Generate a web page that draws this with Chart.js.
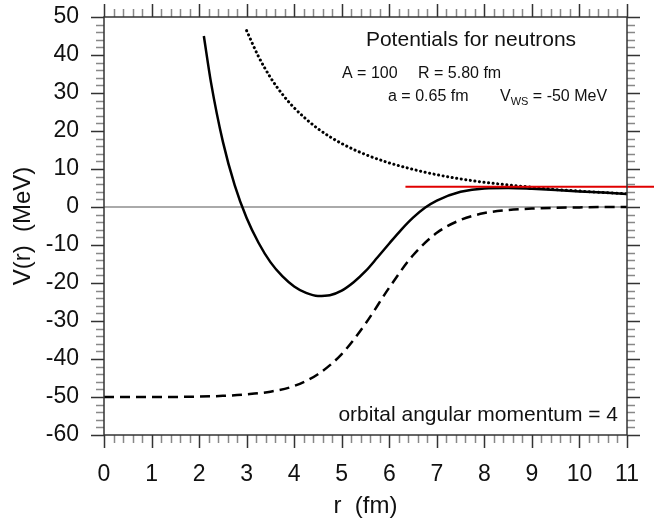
<!DOCTYPE html>
<html>
<head>
<meta charset="utf-8">
<script src="https://cdn.jsdelivr.net/npm/chart.js@4.4.0/dist/chart.umd.min.js"></script>
<style>
  html, body { margin: 0; padding: 0; background: #fff; }
  #wrap { width: 654px; height: 523px; }
</style>
</head>
<body>
<div id="wrap"><canvas id="chartPot"></canvas></div>
<script>
// Woods-Saxon potential (dashed)
const rWS = [0, 1, 2, 2.5, 3, 3.5, 4, 4.5, 5, 5.5, 6, 6.5, 7, 7.5, 8, 8.5, 9, 9.5, 10, 10.5, 11];
const vWS = [-50.0, -50.0, -49.9, -49.7, -49.3, -48.6, -47.1, -44.0, -38.7, -30.7, -21.2, -12.7, -6.8, -3.4, -1.6, -0.8, -0.4, -0.2, -0.1, 0.0, 0.0];

// centrifugal term (dotted)
const rCent = [3, 3.25, 3.5, 3.75, 4, 4.5, 5, 5.5, 6, 6.5, 7, 7.5, 8, 8.5, 9, 9.5, 10, 10.5, 11];
const vCent = [46.4, 39.6, 34.1, 29.7, 26.1, 20.6, 16.7, 13.8, 11.6, 9.9, 8.5, 7.4, 6.5, 5.8, 5.2, 4.6, 4.2, 3.8, 3.5];

// total potential (solid)
const rTot = [2.1, 2.25, 2.5, 2.75, 3, 3.25, 3.5, 3.75, 4, 4.25, 4.5, 4.75, 5, 5.25, 5.5, 5.75, 6, 6.25, 6.5, 6.75, 7, 7.5, 8, 8.5, 9, 9.5, 10, 10.5, 11];
const vTot = [45.0, 32.8, 17.2, 5.7, -2.9, -9.4, -14.5, -18.2, -20.9, -22.6, -23.4, -23.2, -22.0, -19.8, -16.9, -13.3, -9.6, -6.0, -2.8, -0.2, 1.7, 4.0, 4.9, 5.0, 4.8, 4.5, 4.1, 3.8, 3.4];

// barrier marker (red) and zero reference
const rBarrier = [6.34, 11.6];
const vBarrier = [5.3, 5.3];
const rZero = [0, 11];
const vZero = [0, 0];

const xTicks = [0, 1, 2, 3, 4, 5, 6, 7, 8, 9, 10, 11];
const yTicks = [-60, -50, -40, -30, -20, -10, 0, 10, 20, 30, 40, 50];

const pts = (xs, ys) => xs.map((x, i) => ({ x: x, y: ys[i] }));
const FONT = 'Liberation Sans, Arial, Helvetica, sans-serif';

// frame, tick marks, annotations
const decor = {
  id: 'decor',
  afterDatasetsDraw(chart) {
    const { ctx, chartArea: a, scales: { x, y } } = chart;
    ctx.save();
    ctx.lineWidth = 1.5;
    for (let i = 0; i <= 55; i++) {
      const px = Math.round(x.getPixelForValue(i * 0.2)) + 0.5;
      const major = i % 5 === 0;
      const len = major ? 13 : 8;
      ctx.strokeStyle = major ? '#333' : '#888';
      ctx.beginPath();
      ctx.moveTo(px, a.bottom); ctx.lineTo(px, a.bottom + len);
      ctx.moveTo(px, a.top); ctx.lineTo(px, a.top - len);
      ctx.stroke();
    }
    for (let i = 0; i <= 55; i++) {
      const v = -60 + i * 2;
      const py = Math.round(y.getPixelForValue(v)) + 0.5;
      const major = v % 10 === 0;
      const len = major ? 13 : 8;
      ctx.strokeStyle = major ? '#333' : '#888';
      ctx.beginPath();
      ctx.moveTo(a.left, py); ctx.lineTo(a.left - len, py);
      ctx.moveTo(a.right, py); ctx.lineTo(a.right + len, py);
      ctx.stroke();
    }
    ctx.strokeStyle = '#333';
    ctx.lineWidth = 1.5;
    ctx.strokeRect(a.left, a.top, a.right - a.left, a.bottom - a.top);

    ctx.fillStyle = '#111';
    ctx.textBaseline = 'alphabetic';
    ctx.font = '21px ' + FONT;
    ctx.textAlign = 'center';
    ctx.fillText('Potentials for neutrons', 471, 46);
    ctx.textAlign = 'right';
    ctx.fillText('orbital angular momentum = 4', 618, 421);

    ctx.textAlign = 'left';
    ctx.font = '16px ' + FONT;
    ctx.fillText('A = 100', 342, 78);
    ctx.fillText('R = 5.80 fm', 418, 78);
    ctx.fillText('a = 0.65 fm', 388, 101);
    ctx.fillText('V', 500, 101);
    const vw = ctx.measureText('V').width;
    ctx.font = '11px ' + FONT;
    ctx.fillText('WS', 500 + vw, 105);
    const sw = ctx.measureText('WS').width;
    ctx.font = '16px ' + FONT;
    ctx.fillText(' = -50 MeV', 500 + vw + sw, 101);
    ctx.restore();
  }
};

const ctx = document.getElementById('chartPot').getContext('2d');
const chart = new Chart(ctx, {
  type: 'line',
  data: {
    datasets: [
      {
        label: 'barrier',
        data: pts(rBarrier, vBarrier),
        borderColor: '#e00000',
        borderWidth: 2,
        pointRadius: 0,
        clip: false
      },
      {
        label: 'total',
        data: pts(rTot, vTot),
        borderColor: '#000',
        borderWidth: 2.5,
        pointRadius: 0,
        cubicInterpolationMode: 'monotone'
      },
      {
        label: 'centrifugal',
        data: pts(rCent, vCent),
        borderColor: '#000',
        borderWidth: 3,
        borderDash: [0.1, 4.5],
        borderCapStyle: 'round',
        pointRadius: 0,
        cubicInterpolationMode: 'monotone'
      },
      {
        label: 'Woods-Saxon',
        data: pts(rWS, vWS),
        borderColor: '#000',
        borderWidth: 2.5,
        borderDash: [10, 6],
        pointRadius: 0,
        cubicInterpolationMode: 'monotone'
      },
      {
        label: 'zero',
        data: pts(rZero, vZero),
        borderColor: '#aaa',
        borderWidth: 2,
        pointRadius: 0
      }
    ]
  },
  options: {
    responsive: true,
    maintainAspectRatio: false,
    animation: false,
    devicePixelRatio: 1,
    layout: { padding: { top: 17, right: 27, left: 0, bottom: 0 } },
    plugins: {
      legend: { display: false },
      tooltip: { enabled: false }
    },
    scales: {
      x: {
        type: 'linear',
        min: 0,
        max: 11,
        afterFit: s => { s.height = 88; s.paddingLeft = 0; s.paddingRight = 0; },
        afterBuildTicks: s => { s.ticks = xTicks.map(v => ({ value: v })); },
        grid: { display: false, drawTicks: false },
        border: { display: false },
        ticks: { color: '#111', padding: 26, font: { size: 23, family: FONT } },
        title: { display: true, text: 'r  (fm)', color: '#111', font: { size: 24, family: FONT }, padding: { bottom: 2 } }
      },
      y: {
        type: 'linear',
        min: -60,
        max: 50,
        afterFit: s => { s.width = 104; s.paddingTop = 0; s.paddingBottom = 0; },
        afterBuildTicks: s => { s.ticks = yTicks.map(v => ({ value: v })); },
        grid: { display: false, drawTicks: false },
        border: { display: false },
        ticks: { color: '#111', padding: 25, font: { size: 23, family: FONT } },
        title: { display: true, text: 'V(r)  (MeV)', color: '#111', font: { size: 24, family: FONT }, padding: { top: 9 } }
      }
    }
  },
  plugins: [decor]
});
</script>
</body>
</html>
